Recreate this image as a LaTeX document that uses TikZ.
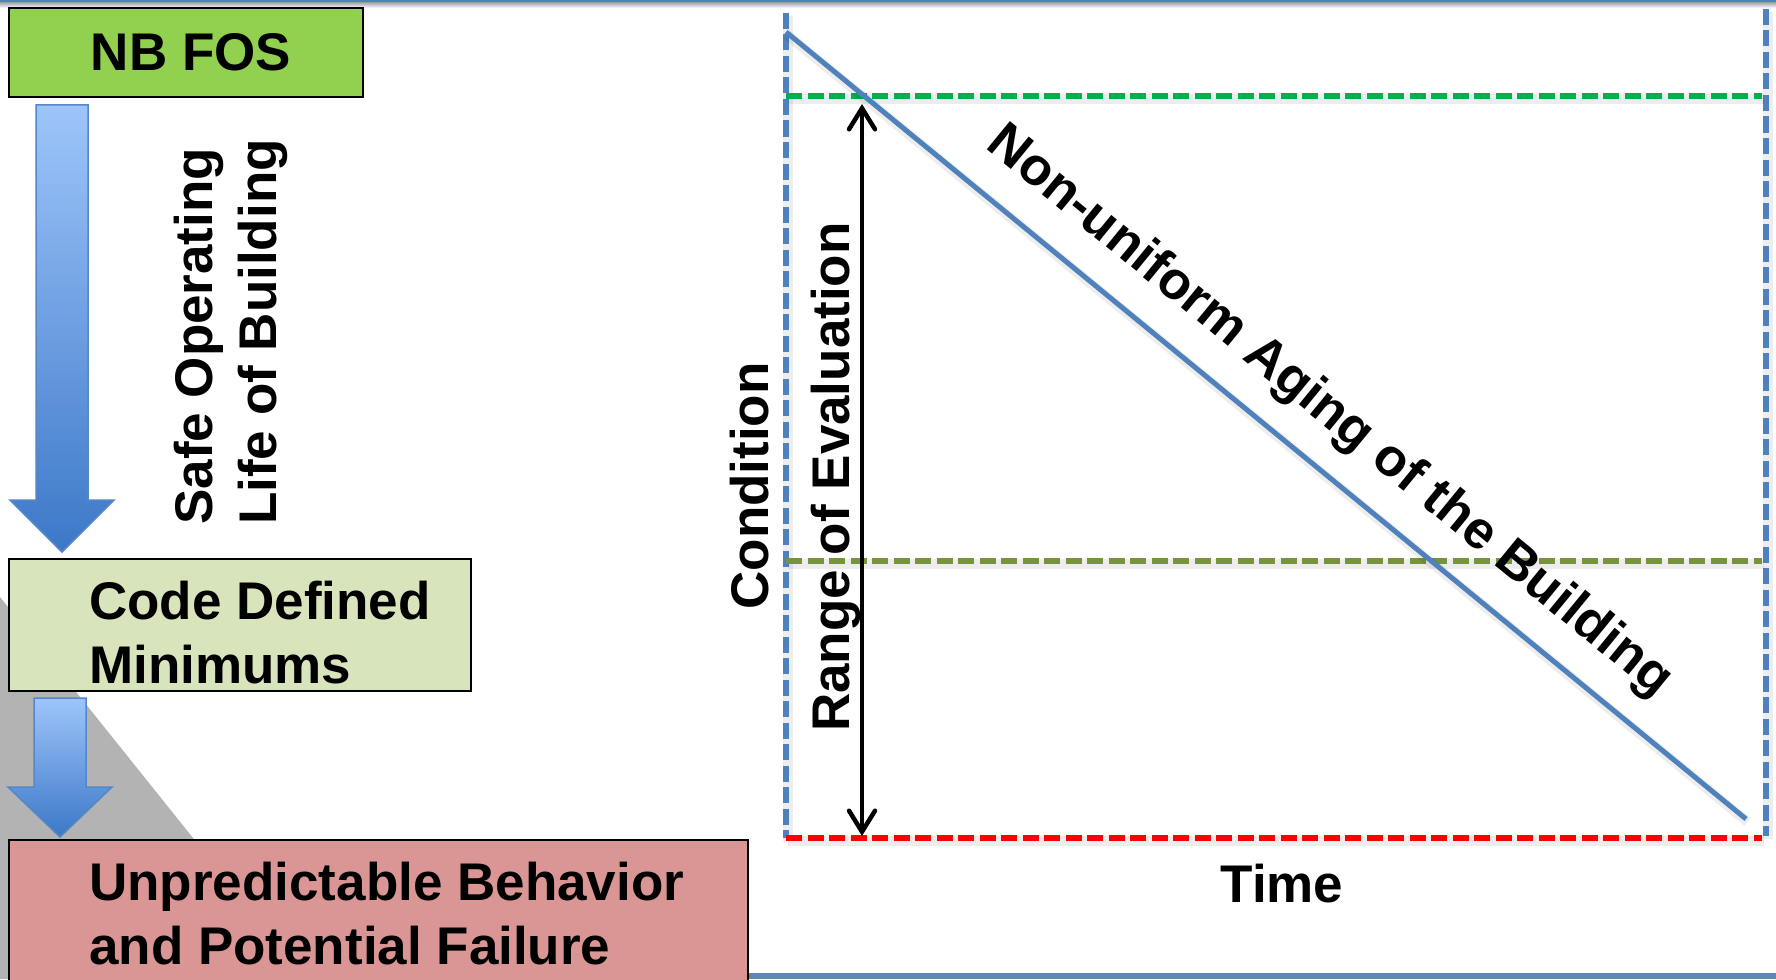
\documentclass[tikz,border=0pt]{standalone}
\usepackage{fontspec}
\setmainfont{Liberation Sans}
\usetikzlibrary{arrows.meta,calc}
\definecolor{nbgreen}{RGB}{146,208,80}
\definecolor{codegreen}{RGB}{216,228,188}
\definecolor{failred}{RGB}{218,150,148}
\definecolor{lineblue}{RGB}{79,129,189}
\definecolor{arrowtop}{RGB}{158,197,250}
\definecolor{arrowbot}{RGB}{60,120,200}
\definecolor{arrowedge}{RGB}{85,135,200}
\definecolor{lvlgreen}{RGB}{0,176,80}
\definecolor{lvlolive}{RGB}{119,147,60}
\definecolor{lvlred}{RGB}{255,0,0}
\definecolor{barblue}{RGB}{95,135,175}
\definecolor{topblue}{RGB}{79,129,189}
\definecolor{greytri}{RGB}{179,179,179}
\tikzset{
  boxnode/.style={draw=black, line width=2pt, inner sep=0pt, anchor=north west},
  big/.style={font=\fontsize{53}{64}\selectfont\bfseries},
  dashline/.style={line width=6.5pt, dash pattern=on 16pt off 5.5pt},
  blockarrow/.style={top color=arrowtop, bottom color=arrowbot, draw=arrowedge, line width=1.5pt, line join=miter},
  softshadow/.style={preaction={draw=black, opacity=0.07, line width=10pt, transform canvas={shift={(1.5pt,-3pt)}}}},
  barbtip/.tip={Straight Barb[length=21pt,width=26pt,line width=4.5pt,line cap=round]}
}
\begin{document}
\begin{tikzpicture}[x=1pt,y=-1pt]
\useasboundingbox (0,0) rectangle (1776,979);
\clip (0,0) rectangle (1776,979);
\fill[white] (0,0) rectangle (1776,979);
% grey background triangle
\fill[greytri] (0,597) -- (306,979) -- (0,979) -- cycle;
% top and bottom bars
\shade[top color=black!35, bottom color=white] (0,2.5) rectangle (1776,8);
\fill[topblue] (0,0) rectangle (1776,2.5);
\fill[barblue] (747,973) rectangle (1776,979);

% boxes
\node[boxnode, fill=nbgreen, minimum width=354pt, minimum height=89pt, big] (nb) at (8,7) {\hspace*{10pt}NB FOS};
\node[boxnode, fill=codegreen, minimum width=462pt, minimum height=132pt] (code) at (8,558) {};
\node[big, align=left, anchor=north west, inner sep=0pt] (codetext) at (89,581) {Code Defined\\Minimums};
\node[boxnode, fill=failred, minimum width=739pt, minimum height=170pt] (fail) at (8,839) {};
\node[big, align=left, anchor=north west, inner sep=0pt] (failtext) at (89,862) {Unpredictable Behavior\\and Potential Failure};

% block arrows
\path[blockarrow] (36,105) -- (88,105) -- (88,500) -- (114,500) -- (62,552) -- (10,500) -- (36,500) -- cycle;
\path[blockarrow] (34,698) -- (86,698) -- (86,787) -- (112,787) -- (60,837) -- (8,787) -- (34,787) -- cycle;
\node[big, rotate=90, align=left, anchor=west, inner sep=0pt] (safe) at (231,525) {Safe Operating\\Life of Building};

% chart frame
\coordinate (tl) at (786,13);
\coordinate (bl) at (786,838);
\coordinate (tr) at (1766,9);
\coordinate (br) at (1766,836);
\coordinate (g1) at (786,96);
\coordinate (g2) at (1762,96);
\coordinate (o1) at (786,561);
\coordinate (o2) at (1762,561);
\coordinate (r1) at (786,838);
\coordinate (r2) at (1762,838);
\coordinate (d1) at (786,32);
\coordinate (d2) at (1746,819);
\coordinate (a1) at (862,104);
\coordinate (a2) at (862,836);

\draw[dashline, lineblue, softshadow] (tl) -- (bl);
\draw[dashline, lineblue, softshadow] (tr) -- (br);
\draw[dashline, lvlgreen, softshadow] (g1) -- (g2);
\draw[dashline, lvlolive, softshadow] (o1) -- (o2);
\draw[dashline, lvlred, softshadow] (r1) -- (r2);
\draw[lineblue, line width=5pt, softshadow] (d1) -- (d2);
\draw[line width=4.5pt, barbtip-barbtip] (a1) -- (a2);

% labels
\node[big, rotate=90, anchor=base, inner sep=0pt] (cond) at (768,486) {Condition};
\node[big, rotate=90, anchor=base, inner sep=0pt] (range) at (849,477) {Range of Evaluation};
\node[big, anchor=base, inner sep=0pt] (time) at (1282,902) {Time};
\node[big, rotate=-39.35, inner sep=0pt] (aging) at (1329,412) {Non-uniform Aging of the Building};
\end{tikzpicture}
\end{document}
